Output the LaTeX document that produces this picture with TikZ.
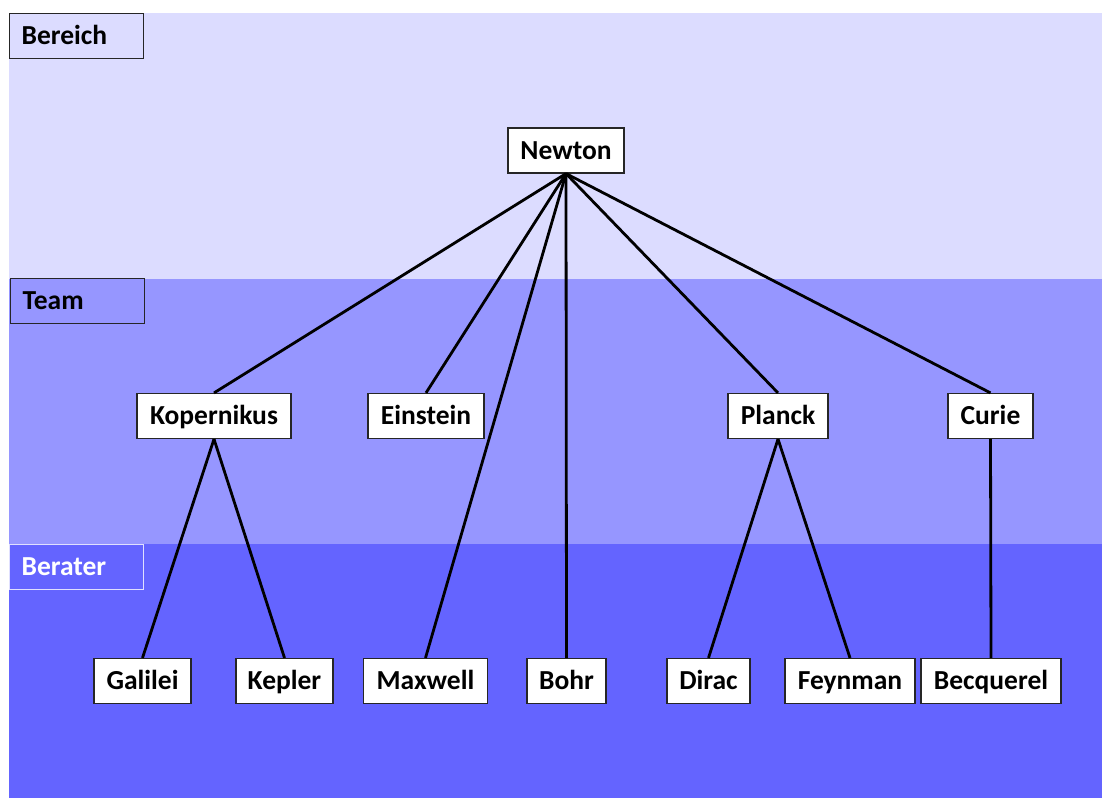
\documentclass[tikz,border=0pt]{standalone}
\usepackage{fontspec}
\setmainfont{Carlito}
\begin{document}
\begin{tikzpicture}[x=1pt,y=-1pt,
  lbl/.style={font=\bfseries\fontsize{27.5}{30}\selectfont, text height=17.6pt, text depth=0pt},
  person/.style={lbl, draw=black!85, line width=1.2pt, fill=white, inner sep=0pt,
    minimum height=45},
  band/.style={lbl, draw=black!85, line width=1.2pt, anchor=north west, inner sep=0pt,
    minimum height=45, minimum width=134, text width=110, align=left},
  link/.style={line width=2.8pt, black}]
\definecolor{bandA}{RGB}{220,220,255}
\definecolor{bandB}{RGB}{150,150,255}
\definecolor{bandC}{RGB}{100,100,255}
\useasboundingbox (0,0) rectangle (1102,798);
% level bands
\fill[bandA] (9,13) rectangle (1102,279);
\fill[bandB] (9,279) rectangle (1102,544);
\fill[bandC] (9,544) rectangle (1102,798);
% band labels
\node[band, fill=bandA] (lbBereich) at (9,13) {Bereich};
\node[band, fill=bandB] (lbTeam) at (10,278) {Team};
\node[band, fill=bandC, draw=white!80!bandC, text=white] (lbBerater) at (9,544) {Berater};
% people
\node[person, minimum width=116] (newton) at (566,150.5) {Newton};
\node[person, minimum width=154] (kop) at (214,416) {Kopernikus};
\node[person, minimum width=116] (ein) at (426,416) {Einstein};
\node[person, minimum width=100] (pla) at (778,416) {Planck};
\node[person, minimum width=85] (cur) at (990.5,416) {Curie};
\node[person, minimum width=97] (gal) at (142.5,681) {Galilei};
\node[person, minimum width=97] (kep) at (284.5,681) {Kepler};
\node[person, minimum width=124] (max) at (425.5,681) {Maxwell};
\node[person, minimum width=79] (boh) at (566.5,681) {Bohr};
\node[person, minimum width=83] (dir) at (708.5,681) {Dirac};
\node[person, minimum width=130] (fey) at (850,681) {Feynman};
\node[person, minimum width=140] (bec) at (991,681) {Becquerel};
% connectors
\foreach \c in {kop,ein,max,boh,pla,cur}
  \draw[link] (newton.south) -- (\c.north);
\draw[link] (kop.south) -- (gal.north);
\draw[link] (kop.south) -- (kep.north);
\draw[link] (pla.south) -- (dir.north);
\draw[link] (pla.south) -- (fey.north);
\draw[link] (cur.south) -- (bec.north);
\end{tikzpicture}
\end{document}
